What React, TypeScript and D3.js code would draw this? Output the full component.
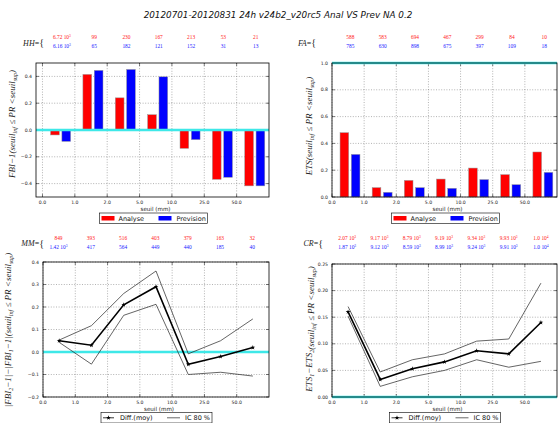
import React from 'react'
import * as d3 from 'd3'

// seuils (mm)
const seuils = ['0.0', '1.0', '2.0', '5.0', '10.0', '25.0', '50.0']

// header counts ("e" = power of ten)
const hhAnal = ['6.72e3', '99', '230', '167', '213', '53', '21']
const hhPrev = ['6.16e3', '65', '182', '121', '152', '31', '13']
const faAnal = ['588', '583', '694', '467', '299', '84', '10']
const faPrev = ['785', '630', '898', '675', '397', '109', '18']
const mmAnal = ['849', '393', '516', '403', '379', '163', '32']
const mmPrev = ['1.42e3', '417', '564', '449', '440', '185', '40']
const crAnal = ['2.07e3', '9.17e3', '8.79e3', '9.19e3', '9.34e3', '9.93e3', '1.0e4']
const crPrev = ['1.87e3', '9.12e3', '8.59e3', '8.99e3', '9.24e3', '9.91e3', '1.0e4']

// bars
const fbiAnal = [-0.037, 0.415, 0.24, 0.114, -0.137, -0.368, -0.417]
const fbiPrev = [-0.085, 0.445, 0.452, 0.397, -0.072, -0.353, -0.417]
const etsAnal = [0.48, 0.07, 0.124, 0.134, 0.216, 0.167, 0.336]
const etsPrev = [0.318, 0.035, 0.07, 0.065, 0.13, 0.092, 0.184]

// differences + IC 80 %
const fbiDiff = [0.05, 0.03, 0.21, 0.29, -0.055, -0.02, 0.02]
const fbiHigh = [0.053, 0.117, 0.26, 0.36, -0.008, 0.05, 0.147]
const fbiLow = [0.043, -0.054, 0.163, 0.212, -0.1, -0.09, -0.107]
const etsDiff = [0.16, 0.033, 0.053, 0.066, 0.087, 0.081, 0.14]
const etsHigh = [0.17, 0.047, 0.07, 0.081, 0.105, 0.109, 0.214]
const etsLow = [0.152, 0.02, 0.038, 0.05, 0.07, 0.056, 0.067]

const SANS = 'DejaVu Sans, sans-serif'
const SERIF = 'Liberation Serif, DejaVu Serif, serif'
const CYAN = '#3ee8e8'
const SUB = 6

const fmt = (d: number, n: number) => d.toFixed(n).replace('-', '\u2212')

function Num({ s, x, y, color }: { s: string; x: number; y: number; color: string }) {
  const [m, e] = s.split('e')
  return (
    <text x={x} y={y} textAnchor="middle" fill={color} fontFamily={SERIF} fontSize={5.4}>
      {e ? m + ' 10' : m}
      {e ? <tspan dy={-2} fontSize={3.6}>{e}</tspan> : null}
    </text>
  )
}

function YLabel({ x, y, pre }: { x: number; y: number; pre: React.ReactNode }) {
  return (
    <text transform={`translate(${x},${y}) rotate(-90)`} textAnchor="middle" fontFamily={SERIF}
      fontStyle="italic" fontSize={9} fill="#222">
      {pre}(seuil<tspan fontSize={SUB} dy={2}>inf</tspan><tspan dy={-2}> {'\u2264'} PR {'<'}seuil</tspan>
      <tspan fontSize={SUB} dy={2}>sup</tspan><tspan dy={-2}>)</tspan>
    </text>
  )
}

function Frame({ x, y, yTicks, yDec, box }: any) {
  const xt = d3.range(seuils.length)
  return (
    <g>
      {xt.map(i => (
        <line key={'gx' + i} x1={x(i)} x2={x(i)} y1={box.top} y2={box.bottom}
          stroke="#666" strokeWidth={0.5} strokeDasharray="1,1.6" />
      ))}
      {yTicks.map((t: number) => (
        <line key={'gy' + t} x1={box.left} x2={box.right} y1={y(t)} y2={y(t)}
          stroke="#666" strokeWidth={0.5} strokeDasharray="1,1.6" />
      ))}
      {xt.map(i => (
        <g key={'tx' + i}>
          <line x1={x(i)} x2={x(i)} y1={box.bottom} y2={box.bottom - 3} stroke="#000" strokeWidth={0.5} />
          <line x1={x(i)} x2={x(i)} y1={box.top} y2={box.top + 3} stroke="#000" strokeWidth={0.5} />
          <text x={x(i)} y={box.bottom + 6.5} textAnchor="middle" fontFamily={SANS} fontSize={4.6} fill="#222">
            {seuils[i]}
          </text>
        </g>
      ))}
      {yTicks.map((t: number) => (
        <g key={'ty' + t}>
          <line x1={box.left} x2={box.left + 3} y1={y(t)} y2={y(t)} stroke="#000" strokeWidth={0.5} />
          <line x1={box.right} x2={box.right - 3} y1={y(t)} y2={y(t)} stroke="#000" strokeWidth={0.5} />
          <text x={box.left - 4} y={y(t) + 1.6} textAnchor="end" fontFamily={SANS} fontSize={4.6} fill="#222">
            {fmt(t, yDec)}
          </text>
        </g>
      ))}
      <text x={(box.left + box.right) / 2 + 3} y={box.bottom + 14} textAnchor="middle" fontFamily={SANS}
        fontSize={5.6} fill="#222">seuil (mm)</text>
    </g>
  )
}

function BarPanel({ box, x0, yDom, yTicks, anal, prev, cyanAt, ylab, ylabX, ylabY }: any) {
  const x = d3.scaleLinear().domain([x0, 7]).range([box.left, box.right])
  const y = d3.scaleLinear().domain(yDom).range([box.bottom, box.top])
  const lx = (box.left + box.right) / 2 - 53
  const ly = box.bottom + 16
  return (
    <g>
      <Frame x={x} y={y} yTicks={yTicks} yDec={1} box={box} />
      {anal.map((v: number, i: number) => (
        <rect key={'a' + i} x={x(i + 0.25)} width={x(i + 0.52) - x(i + 0.25)}
          y={Math.min(y(v), y(0))} height={Math.abs(y(v) - y(0))}
          fill="#ff0000" stroke="#999" strokeWidth={0.5} />
      ))}
      {prev.map((v: number, i: number) => (
        <rect key={'p' + i} x={x(i + 0.6)} width={x(i + 0.87) - x(i + 0.6)}
          y={Math.min(y(v), y(0))} height={Math.abs(y(v) - y(0))}
          fill="#0000ff" stroke="#999" strokeWidth={0.5} />
      ))}
      <line x1={box.left} x2={box.right} y1={y(cyanAt)} y2={y(cyanAt)} stroke={CYAN} strokeWidth={2.4} />
      <rect x={box.left} y={box.top} width={box.right - box.left} height={box.bottom - box.top}
        fill="none" stroke="#000" strokeWidth={0.8} />
      <YLabel x={ylabX} y={ylabY} pre={ylab} />
      <g>
        <rect x={lx} y={ly} width={108} height={10.5} fill="#fff" stroke="#000" strokeWidth={0.6} />
        <rect x={lx + 2} y={ly + 3} width={13} height={4.5} fill="#ff0000" />
        <text x={lx + 19} y={ly + 7.8} fontFamily={SANS} fontSize={6.5} fill="#111">Analyse</text>
        <rect x={lx + 59} y={ly + 3} width={13} height={4.5} fill="#0000ff" />
        <text x={lx + 77} y={ly + 7.8} fontFamily={SANS} fontSize={6.5} fill="#111">Prevision</text>
      </g>
    </g>
  )
}

function LinePanel({ box, yDom, yTicks, yDec, diff, high, low, ylab, ylabX, ylabY }: any) {
  const x = d3.scaleLinear().domain([0, 7]).range([box.left, box.right])
  const y = d3.scaleLinear().domain(yDom).range([box.bottom, box.top])
  const line = d3.line<number>().x((d, i) => x(i + 0.5)).y(d => y(d))
  const star = d3.symbol().type(d3.symbolStar).size(7)()
  const lx = (box.left + box.right) / 2 - 55
  const ly = box.bottom + 15.5
  return (
    <g>
      <Frame x={x} y={y} yTicks={yTicks} yDec={yDec} box={box} />
      <line x1={box.left} x2={box.right} y1={y(0)} y2={y(0)} stroke={CYAN} strokeWidth={2.4} />
      <path d={line(high) || ''} fill="none" stroke="#222" strokeWidth={0.7} />
      <path d={line(low) || ''} fill="none" stroke="#222" strokeWidth={0.7} />
      <path d={line(diff) || ''} fill="none" stroke="#000" strokeWidth={1.6} />
      {diff.map((d: number, i: number) => (
        <path key={i} d={star || ''} transform={`translate(${x(i + 0.5)},${y(d)})`} fill="#000" />
      ))}
      <rect x={box.left} y={box.top} width={box.right - box.left} height={box.bottom - box.top}
        fill="none" stroke="#000" strokeWidth={0.8} />
      <YLabel x={ylabX} y={ylabY} pre={ylab} />
      <g>
        <rect x={lx} y={ly} width={111} height={10.5} fill="#fff" stroke="#000" strokeWidth={0.6} />
        <line x1={lx + 2} x2={lx + 13} y1={ly + 5.3} y2={ly + 5.3} stroke="#000" strokeWidth={0.8} />
        <path d={star || ''} transform={`translate(${lx + 7.5},${ly + 5.3})`} fill="#000" />
        <text x={lx + 19} y={ly + 7.8} fontFamily={SANS} fontSize={6.5} fill="#111">Diff.(moy)</text>
        <line x1={lx + 66} x2={lx + 79} y1={ly + 5.3} y2={ly + 5.3} stroke="#000" strokeWidth={0.6} />
        <text x={lx + 84} y={ly + 7.8} fontFamily={SANS} fontSize={6.5} fill="#111">IC 80 %</text>
      </g>
    </g>
  )
}

function Header({ label, labelX, y, anal, prev, x }: any) {
  return (
    <g>
      <text x={labelX} y={y + 6.5} textAnchor="end" fontFamily={SERIF} fontStyle="italic" fontSize={8} fill="#222">
        {label}<tspan fontStyle="normal">=</tspan><tspan fontStyle="normal" fontSize={10} dy={0.5}>{'{'}</tspan>
      </text>
      {anal.map((s: string, i: number) => <Num key={'a' + i} s={s} x={x(i)} y={y} color="#ff2020" />)}
      {prev.map((s: string, i: number) => <Num key={'p' + i} s={s} x={x(i)} y={y + 9} color="#2020ff" />)}
    </g>
  )
}

export default function App() {
  const tl = { left: 36, right: 269, top: 63, bottom: 197 }
  const tr = { left: 332, right: 557, top: 63, bottom: 197 }
  const bl = { left: 43, right: 269, top: 262, bottom: 397 }
  const br = { left: 332, right: 557, top: 264, bottom: 397 }
  const step = 32.3
  const sub = (s: string) => <tspan fontSize={SUB} dy={2}>{s}</tspan>
  return (
    <svg width={558} height={423} style={{ position: 'absolute', left: 0, top: 0, background: '#fff' }}>
      <rect width={558} height={423} fill="#fff" />
      <text x={278} y={18} textAnchor="middle" fontFamily={SANS} fontStyle="italic" fontSize={8.8} fill="#111">
        20120701-20120831 24h v24b2_v20rc5 Anal VS Prev NA 0.2
      </text>
      <Header label="HH" labelX={44} y={39} anal={hhAnal} prev={hhPrev} x={(i: number) => 42.5 + (i + 0.6) * step} />
      <Header label="FA" labelX={316} y={39} anal={faAnal} prev={faPrev} x={(i: number) => 332 + (i + 0.57) * step} />
      <Header label="MM" labelX={44} y={239.5} anal={mmAnal} prev={mmPrev} x={(i: number) => 43 + (i + 0.48) * step} />
      <Header label="CR" labelX={323} y={239.5} anal={crAnal} prev={crPrev} x={(i: number) => 332 + (i + 0.47) * step} />

      <BarPanel box={tl} x0={-0.2} yDom={[-0.5, 0.5]} yTicks={[-0.4, -0.2, 0, 0.2, 0.4]}
        anal={fbiAnal} prev={fbiPrev} cyanAt={0} ylab={<>FBI{'\u2212'}1</>} ylabX={15} ylabY={124} />
      <BarPanel box={tr} x0={0} yDom={[0, 1]} yTicks={[0, 0.2, 0.4, 0.6, 0.8, 1.0]}
        anal={etsAnal} prev={etsPrev} cyanAt={1} ylab={<>ETS</>} ylabX={312} ylabY={126} />

      <LinePanel box={bl} yDom={[-0.2, 0.4]} yTicks={[-0.2, -0.1, 0, 0.1, 0.2, 0.3, 0.4]} yDec={1}
        diff={fbiDiff} high={fbiHigh} low={fbiLow} ylabX={11} ylabY={330}
        ylab={<>|FBI{sub('2')}<tspan dy={-2}>{'\u2212'}1|{'\u2212'}|FBI</tspan>{sub('1')}<tspan dy={-2}>{'\u2212'}1|</tspan></>} />
      <LinePanel box={br} yDom={[0, 0.25]} yTicks={[0, 0.05, 0.1, 0.15, 0.2, 0.25]} yDec={2}
        diff={etsDiff} high={etsHigh} low={etsLow} ylabX={312} ylabY={329}
        ylab={<>ETS{sub('1')}<tspan dy={-2}>{'\u2212'}ETS</tspan>{sub('2')}<tspan dy={-2}></tspan></>} />
    </svg>
  )
}
